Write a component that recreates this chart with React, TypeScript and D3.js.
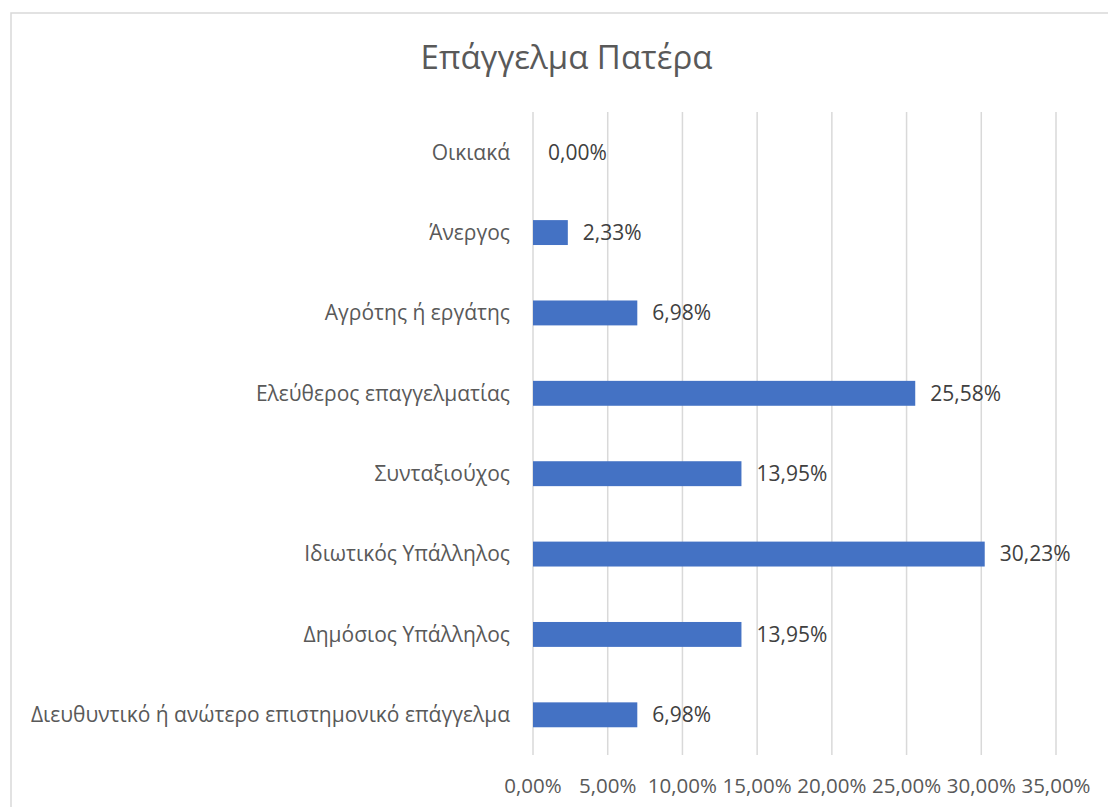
import React from "react";
import * as d3 from "d3";

const categories = [
  "Οικιακά",
  "Άνεργος",
  "Αγρότης ή εργάτης",
  "Ελεύθερος επαγγελματίας",
  "Συνταξιούχος",
  "Ιδιωτικός Υπάλληλος",
  "Δημόσιος Υπάλληλος",
  "Διευθυντικό ή ανώτερο επιστημονικό επάγγελμα",
];
const values = [0.0, 2.33, 6.98, 25.58, 13.95, 30.23, 13.95, 6.98];
const ticks = [0, 5, 10, 15, 20, 25, 30, 35];
const title = "Επάγγελμα Πατέρα";

const W = 1108;
const H = 807;
const FONT = "'Open Sans', sans-serif";

const fmt = (v: number) => v.toFixed(2).replace(".", ",") + "%";

export default function App() {
  const x = d3.scaleLinear().domain([0, 35]).range([533, 1056]);
  const y = d3.scaleBand<string>().domain(categories).range([112, 755]).paddingInner(0.69).paddingOuter(0.345);
  const bh = y.bandwidth();
  return (
    <svg width={W} height={H} style={{ position: "absolute", left: 0, top: 0, background: "#fff" }} fontFamily={FONT}>
      <rect x={11} y={13} width={W + 10} height={H + 10} fill="#fff" stroke="#d9d9d9" strokeWidth={1.5} />
      <text x={566.5} y={69} textAnchor="middle" fontSize={33} fill="#595959">
        {title}
      </text>
      {ticks.map((t) => (
        <line key={"g" + t} x1={x(t)} x2={x(t)} y1={112} y2={755} stroke="#d9d9d9" strokeWidth={1.5} />
      ))}
      {ticks.map((t) => (
        <text key={"t" + t} x={x(t)} y={793} textAnchor="middle" fontSize={20.5} fill="#595959">
          {fmt(t)}
        </text>
      ))}
      {categories.map((c, i) => {
        const yc = (y(c) as number) + bh / 2;
        return (
          <g key={c}>
            <text x={510} y={yc} dy="0.35em" textAnchor="end" fontSize={21} fill="#595959">
              {c}
            </text>
            {values[i] > 0 && (
              <rect x={x(0)} y={y(c)} width={x(values[i]) - x(0)} height={bh} fill="#4472c4" />
            )}
            <text x={x(values[i]) + 15} y={yc} dy="0.35em" fontSize={21} fill="#404040">
              {fmt(values[i])}
            </text>
          </g>
        );
      })}
    </svg>
  );
}
